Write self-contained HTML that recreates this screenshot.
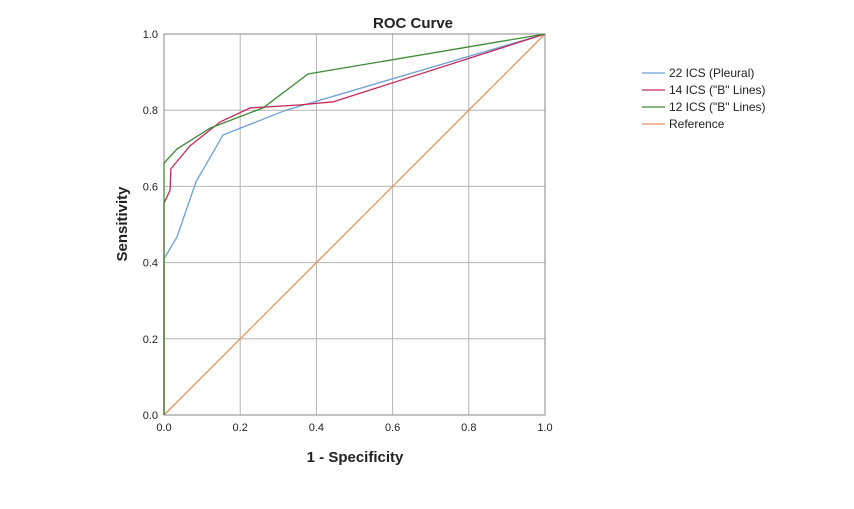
<!DOCTYPE html>
<html><head><meta charset="utf-8"><style>
body{margin:0;background:#fff;font-family:"Liberation Sans",sans-serif;}
</style></head><body>
<svg id="c" width="854" height="504" xmlns="http://www.w3.org/2000/svg"></svg>
<script>
const xTicks=[0,0.2,0.4,0.6,0.8,1.0];
const yTicks=[0,0.2,0.4,0.6,0.8,1.0];
const seriesNames=['22 ICS (Pleural)','14 ICS ("B" Lines)','12 ICS ("B" Lines)','Reference'];
const seriesColors=['#6b9fd4','#c8285a','#3f8a35','#e0915f'];
const pleuralX=[0,0,0.034,0.084,0.155,0.32,1];
const pleuralY=[0,0.41,0.467,0.612,0.735,0.80,1];
const b14X=[0,0,0.016,0.018,0.068,0.147,0.226,0.357,0.444,1];
const b14Y=[0,0.556,0.59,0.646,0.706,0.769,0.806,0.814,0.822,1];
const b12X=[0,0,0.034,0.121,0.26,0.378,1];
const b12Y=[0,0.661,0.698,0.753,0.806,0.895,1];
const refX=[0,1];
const refY=[0,1];
const NS='http://www.w3.org/2000/svg',svg=document.getElementById('c');
const X0=164,X1=545,Y0=415,Y1=34;
const sx=v=>X0+v*(X1-X0), sy=v=>Y0-v*(Y0-Y1);
function mk(t,a,txt){const e=document.createElementNS(NS,t);for(const k in a)e.setAttribute(k,a[k]);if(txt!=null)e.textContent=txt;svg.appendChild(e);return e;}
xTicks.forEach(v=>{const l=mk('line',{x1:sx(v),x2:sx(v),y1:Y1,y2:Y0,stroke:'#b4b4b4','stroke-width':1});

const t=mk('text',{x:sx(v),y:Y0+16,'font-size':11,'text-anchor':'middle',fill:'#222'},v.toFixed(1));
});
yTicks.forEach(v=>{const l=mk('line',{x1:X0,x2:X1,y1:sy(v),y2:sy(v),stroke:'#b4b4b4','stroke-width':1});

const t=mk('text',{x:X0-6,y:sy(v)+4,'font-size':11,'text-anchor':'end',fill:'#222'},v.toFixed(1));
});
const fr=mk('rect',{x:X0,y:Y1,width:X1-X0,height:Y0-Y1,fill:'none',stroke:'#888'});

const data=[[pleuralX,pleuralY],[b14X,b14Y],[b12X,b12Y],[refX,refY]];
const order=[3,0,1,2];
order.forEach(i=>{const [xs,ys]=data[i];
const p=mk('polyline',{points:xs.map((x,j)=>sx(x)+','+sy(ys[j])).join(' '),fill:'none',stroke:seriesColors[i],'stroke-width':1.3});
});
seriesNames.forEach((n,i)=>{const y=73+i*17;
const l=mk('line',{x1:642,x2:665,y1:y,y2:y,stroke:seriesColors[i],'stroke-width':1.3});

const t=mk('text',{x:669,y:y+4,'font-size':12,fill:'#222'},n);
});
const ti=mk('text',{x:413,y:28,'font-size':15,'font-weight':'bold','text-anchor':'middle',fill:'#222'},'ROC Curve');

const xt=mk('text',{x:355,y:462,'font-size':15,'font-weight':'bold','text-anchor':'middle',fill:'#222'},'1 - Specificity');

const yt=mk('text',{x:0,y:0,'font-size':15,'font-weight':'bold','text-anchor':'middle',fill:'#222',transform:'translate(127,224) rotate(-90)'},'Sensitivity');

</script>
</body></html>
